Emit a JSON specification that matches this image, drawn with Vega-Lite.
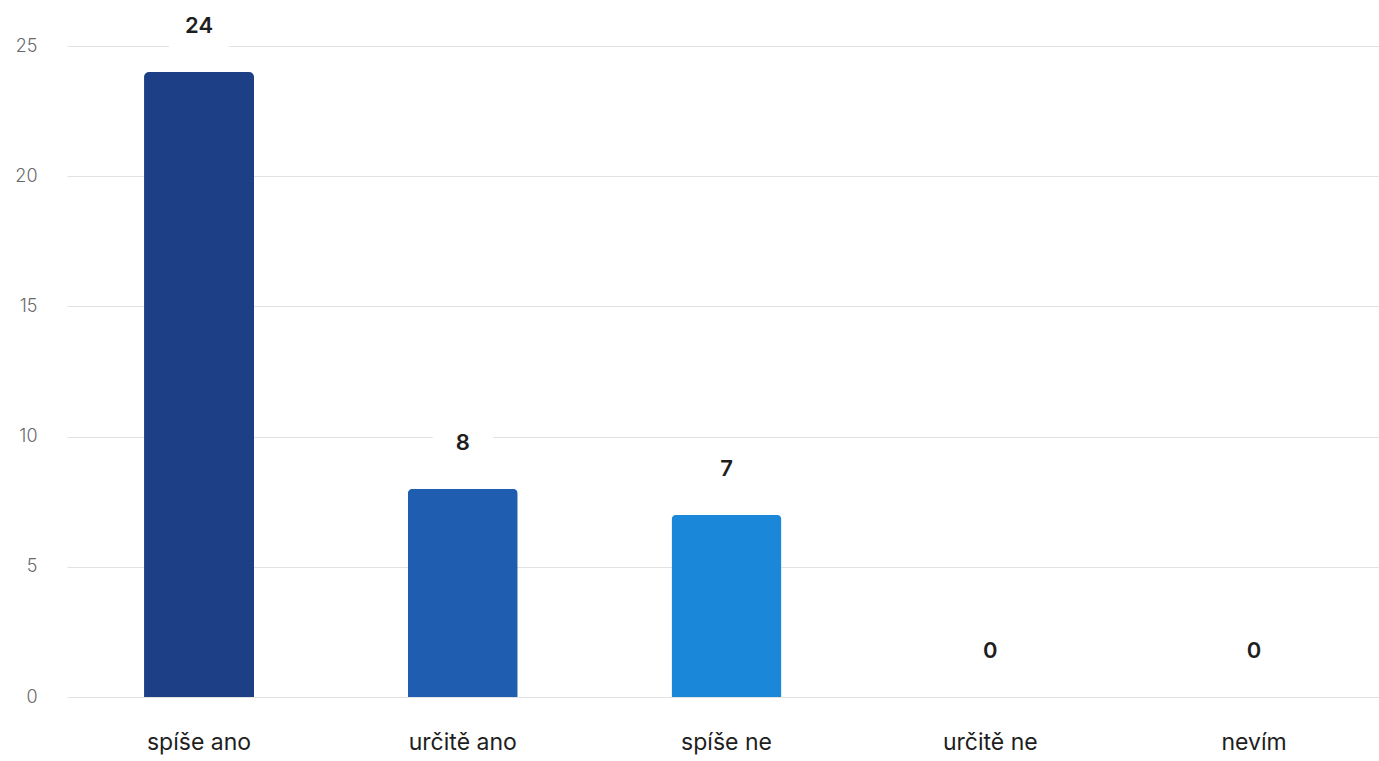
{
  "$schema": "https://vega.github.io/schema/vega-lite/v6.json",
  "autosize": {"type": "none"},
  "width": 1312,
  "height": 651,
  "padding": {"left": 67, "top": 46, "right": 0, "bottom": 64},
  "background": "white",
  "config": {"view": {"stroke": null}, "font": "Inter"},
  "data": {"values": [
    {"odpoved": "spíše ano", "pocet": 24},
    {"odpoved": "určitě ano", "pocet": 8},
    {"odpoved": "spíše ne", "pocet": 7},
    {"odpoved": "určitě ne", "pocet": 0},
    {"odpoved": "nevím", "pocet": 0}
  ]},
  "encoding": {
    "x": {"field": "odpoved", "type": "nominal", "sort": null,
      "scale": {"paddingInner": 0.583, "paddingOuter": 0.2787, "align": 0.524},
      "axis": {"title": null, "labelAngle": 0, "domain": false, "ticks": false, "labelFontSize": 23, "labelColor": "#1e1e1e", "labelPadding": 34, "labelFont": "Inter"}},
    "y": {"field": "pocet", "type": "quantitative",
      "scale": {"domain": [0, 25]},
      "axis": {"title": null, "values": [0, 5, 10, 15, 20, 25], "domain": false, "ticks": false, "labelFontSize": 18, "labelColor": "#6a6a6a", "labelFontWeight": 300, "labelPadding": 30, "gridColor": "#e2e2e2", "gridWidth": 1, "labelFont": "Inter"}}
  },
  "layer": [
    {"mark": {"type": "bar", "cornerRadiusTopLeft": 5, "cornerRadiusTopRight": 5},
     "encoding": {"color": {"field": "odpoved", "type": "nominal", "sort": null, "legend": null,
       "scale": {"domain": ["spíše ano", "určitě ano", "spíše ne", "určitě ne", "nevím"], "range": ["#1c3f85", "#1f5db0", "#1a87d8", "#4aa6e8", "#8cc7f0"]}}}},
    {"mark": {"type": "point", "shape": "M-1,-0.7H1V0.7H-1Z", "filled": true, "color": "white", "opacity": 1, "size": 3600, "yOffset": -46},
     "encoding": {}},
    {"mark": {"type": "text", "yOffset": -46, "fontSize": 22, "fontWeight": 600, "color": "#1e1e1e", "baseline": "middle", "font": "Inter"},
     "encoding": {"text": {"field": "pocet", "type": "quantitative"}}}
  ]
}
